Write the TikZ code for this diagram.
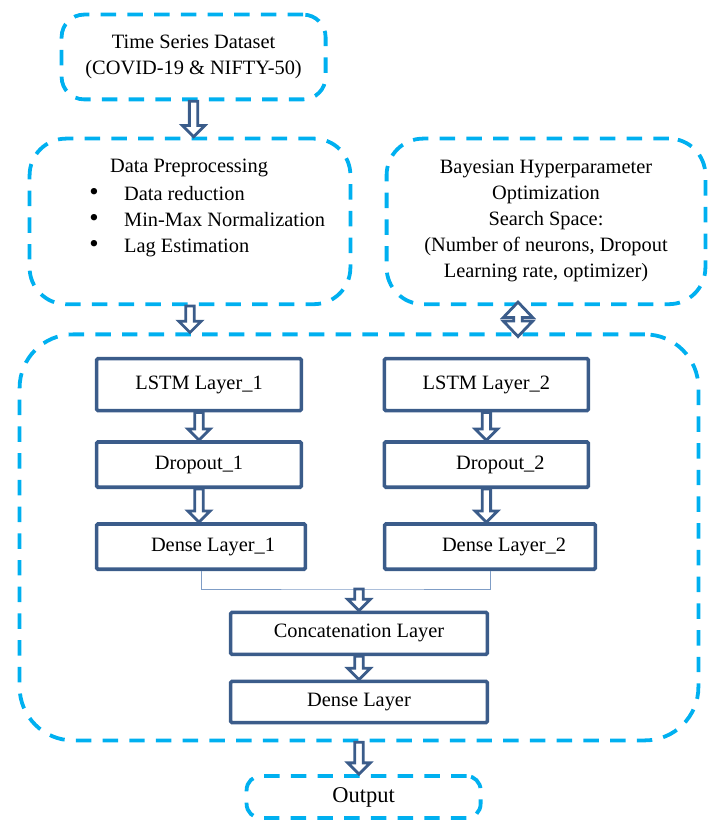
\documentclass[tikz,border=0pt]{standalone}
\usepackage{fontspec}
\setmainfont{Liberation Serif}
\usetikzlibrary{calc}
\definecolor{dashcyan}{HTML}{00B0F0}
\definecolor{boxblue}{HTML}{3B5C8A}
\definecolor{linkblue}{HTML}{7F9DC6}

% hollow block arrows (down, and up-down)
\newcommand{\blockdown}[2]{%
    \draw [hollow] let \p1 = #1, \p2 = #2 in
        (\x1-3pt,\y1) -- (\x1-3pt,\y2+8pt) -- (\x1-8pt,\y2+8pt) -- (\x1,\y2)
        -- (\x1+8pt,\y2+8pt) -- (\x1+3pt,\y2+8pt) -- (\x1+3pt,\y1) -- cycle;}
\newcommand{\blockboth}[2]{%
    \draw [hollow] let \p1 = #1, \p2 = #2 in
        (\x1,\y1) -- (\x1+10.5pt,\y1-11pt) -- (\x1+3pt,\y1-11pt) -- (\x1+3pt,\y2+11pt)
        -- (\x1+10.5pt,\y2+11pt) -- (\x1,\y2) -- (\x1-10.5pt,\y2+11pt) -- (\x1-3pt,\y2+11pt)
        -- (\x1-3pt,\y1-11pt) -- (\x1-10.5pt,\y1-11pt) -- cycle;}
\newcommand{\bigbullet}{{\fontsize{19}{18.5}\selectfont\textbullet}}

\begin{document}
\begin{tikzpicture}[
    font=\fontsize{14.5}{18.5}\selectfont,
    dbox/.style={draw=dashcyan, line width=2.7pt, dash pattern=on 11pt off 8pt,
        rounded corners=#1, align=center},
    dbox/.default=16pt,
    layer/.style={draw=boxblue, line width=2.6pt, rounded corners=1pt,
        minimum height=1.13cm},
    hollow/.style={draw=boxblue, fill=white, line width=2pt, line join=miter},
    thin/.style={draw=linkblue, line width=0.7pt}]
    \useasboundingbox (0,0) rectangle (17.95,20.575);
    % dashed outer blocks
    \node [dbox, minimum width=6.6cm, minimum height=2.12cm] (data) at (4.84,19.15)
        {Time Series Dataset\\(COVID-19 \& NIFTY-50)};
    \node [dbox=26pt, minimum width=8.02cm, minimum height=4.14cm] (prep) at (4.75,15.04) {};
    \node [dbox=26pt, minimum width=7.97cm, minimum height=4.14cm] (bayes) at (13.65,15.04)
        {Bayesian Hyperparameter\\Optimization\\Search Space:\\(Number of neurons, Dropout\\Learning rate, optimizer)};
    \node [dbox=38pt, minimum width=16.97cm, minimum height=10.15cm] (model) at (8.975,7.14) {};
    \node [dbox=10pt, minimum width=5.85cm, minimum height=1.05cm, font=\fontsize{16}{18}\selectfont] (out) at (9.09,0.65) {Output};
    % preprocessing text
    \node (prephead) at (4.725,16.375) {Data Preprocessing};
    \node [anchor=west, inner sep=0pt] (preplist) at (2.23,15.05)
        {\begin{tabular}{@{}l@{\hspace{18pt}}l@{}}
            \bigbullet & Data reduction\\
            \bigbullet & Min-Max Normalization\\
            \bigbullet & Lag Estimation
        \end{tabular}};
    % network layers
    \node [layer, minimum width=5.12cm, minimum height=1.3cm] (lstmA) at (4.975,10.96) {LSTM Layer\_1};
    \node [layer, minimum width=5.12cm] (dropA) at (4.975,8.96) {Dropout\_1};
    \node [layer, minimum width=5.22cm] (denseA) at (5.025,6.91) {\hspace*{0.6cm}Dense Layer\_1};
    \node [layer, minimum width=5.1cm, minimum height=1.3cm] (lstmB) at (12.16,10.96) {LSTM Layer\_2};
    \node [layer, minimum width=5.1cm] (dropB) at (12.16,8.96) {\hspace*{0.7cm}Dropout\_2};
    \node [layer, minimum width=5.27cm] (denseB) at (12.25,6.91) {\hspace*{0.7cm}Dense Layer\_2};
    \node [layer, minimum width=6.42cm, minimum height=1.05cm] (concat) at (8.975,4.74) {Concatenation Layer};
    \node [layer, minimum width=6.42cm, minimum height=1.03cm] (dense) at (8.975,3.025) {Dense Layer};
    \coordinate (join) at (8.975,5.85);
    % connectors
    \draw [thin] (denseA.south) |- (join) -| (denseB.south);
    \blockdown{(data.south)}{(prep.north)}
    \blockdown{(prep.south)}{(prep.south |- model.north)}
    \blockboth{([xshift=-0.7cm,yshift=0.1cm]bayes.south)}{([xshift=-0.7cm,yshift=-0.1cm]bayes.south |- model.north)}
    \blockdown{(lstmA.south)}{(dropA.north)}
    \blockdown{(dropA.south)}{(denseA.north -| dropA.south)}
    \blockdown{(lstmB.south)}{(dropB.north)}
    \blockdown{(dropB.south)}{(denseB.north -| dropB.south)}
    \blockdown{(join)}{(concat.north)}
    \blockdown{(concat.south)}{(dense.north)}
    \blockdown{(model.south)}{(out.north -| model.south)}
\end{tikzpicture}
\end{document}
